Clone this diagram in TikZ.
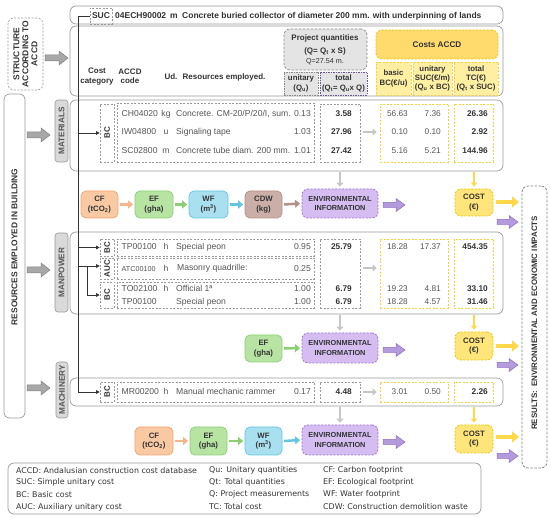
\documentclass[tikz,border=0pt]{standalone}
\usepackage{fontspec}
\setmainfont{Liberation Sans}
\newfontfamily\legfont{DejaVu Sans}
\usetikzlibrary{arrows.meta,fit,calc}
\definecolor{txtC}{HTML}{333333}
\definecolor{numC}{HTML}{555555}
\definecolor{frameC}{HTML}{9A9A9A}
\definecolor{dashC}{HTML}{9A9A9A}
\definecolor{tabC}{HTML}{D9D9D9}
\definecolor{pqTD}{HTML}{6A5A8C}
\definecolor{cfF}{HTML}{F9C9A3}\definecolor{cfD}{HTML}{F3A46E}
\definecolor{efF}{HTML}{B7E4A3}\definecolor{efD}{HTML}{8CCF73}
\definecolor{wfF}{HTML}{A9E0EF}\definecolor{wfD}{HTML}{63C6E0}
\definecolor{cdF}{HTML}{CBAEA8}\definecolor{cdD}{HTML}{B39089}
\definecolor{enF}{HTML}{D5BDF2}\definecolor{enD}{HTML}{9E72D6}
\definecolor{coF}{HTML}{FFE57A}\definecolor{coD}{HTML}{F2C200}
\definecolor{ylF}{HTML}{FFF3B5}\definecolor{ylD}{HTML}{F7D23A}
\definecolor{pqF}{HTML}{E4E4E4}\definecolor{pqD}{HTML}{8A8A8A}
\definecolor{puF}{HTML}{B49BDB}\definecolor{puD}{HTML}{8C6CC4}
\definecolor{yaC}{HTML}{FFD84A}
\definecolor{gaF}{HTML}{A8A8A8}\definecolor{gaD}{HTML}{808080}
\newcommand\myFatArrow[7]{\filldraw[#7] (#1,#3-#4) -- (#2-#6,#3-#4) -- (#2-#6,#3-#5) -- (#2,#3) -- (#2-#6,#3+#5) -- (#2-#6,#3+#4) -- (#1,#3+#4) -- cycle;}
\begin{document}
\begin{tikzpicture}[x=1pt,y=-1pt,
  frame/.style={draw=frameC, line width=0.7pt, rounded corners=6pt, inner sep=0pt},
  dbox/.style={draw=dashC, line width=0.6pt, dash pattern=on 2pt off 1.5pt, inner sep=0pt},
  ybox/.style={draw=ylD, line width=0.8pt, dash pattern=on 2pt off 1.5pt, inner sep=0pt},
  tabbox/.style={draw=frameC, fill=tabC, line width=0.6pt, rounded corners=3pt, inner sep=0pt},
  t/.style={font=\fontsize{8.6}{10}\selectfont, text=numC, inner sep=0pt, text height=6.2pt, text depth=1.8pt},
  n/.style={font=\fontsize{8.3}{10}\selectfont, text=numC, inner sep=0pt, text height=6.2pt, text depth=1.8pt},
  nb/.style={n, font=\fontsize{8.3}{10}\selectfont\bfseries, text=txtC},
  sb/.style={font=\fontsize{8.5}{10}\selectfont\bfseries, text=txtC, inner sep=0pt, text height=6.2pt, text depth=1.8pt},
  hb/.style={font=\fontsize{8.0}{9.4}\selectfont\bfseries, text=txtC, inner sep=0pt, align=center},
  hs/.style={font=\fontsize{7.8}{9.2}\selectfont\bfseries, text=txtC, inner sep=0pt, align=center},
  rot/.style={font=\fontsize{8}{9}\selectfont\bfseries, text=txtC, rotate=90, inner sep=0pt, align=center},
  fp/.style={rounded corners=5pt, line width=0.7pt, inner sep=0pt},
  fpt/.style={font=\fontsize{7.8}{9.6}\selectfont\bfseries, text=txtC, inner sep=0pt, align=center},
  envbox/.style={fill=enF, draw=enD, line width=0.8pt, dash pattern=on 2pt off 1.5pt, rounded corners=6pt, inner sep=0pt},
  costbox/.style={fill=coF, draw=coD, line width=0.8pt, dash pattern=on 2pt off 1.5pt, rounded corners=6pt, inner sep=0pt},
  conn/.style={draw=txtC, line width=0.6pt},
  carr/.style={conn, -{Triangle[length=3.5pt,width=3.5pt]}},
  garr/.style={draw=gray!45, line width=2pt, -{Triangle[length=4pt,width=7pt]}},
  yarr/.style={draw=yaC, line width=1.6pt, -{Triangle[length=4pt,width=6pt]}},
  bigy/.style={draw=yaC, line width=3.5pt, -{Triangle[length=7pt,width=11pt]}},
  farr/.style={line width=2.5pt, -{Triangle[length=5pt,width=8pt]}},
  leg/.style={font=\legfont\fontsize{7.9}{9}\selectfont, text=txtC, inner sep=0pt, anchor=west}
]
\useasboundingbox (0,0) rectangle (550,518);

% ---------- left side ----------
\node[dbox, rounded corners=6pt, fit={(8,18)(43,90)}] (struct) {};
\node[rot, font=\fontsize{8.5}{9}\selectfont\bfseries] at (struct.center) {STRUCTURE\\ACCORDING TO\\ACCD};
\node[frame, rounded corners=5pt, fit={(4,94)(25,418)}] (resbox) {};
\node[rot, font=\fontsize{8.4}{9}\selectfont\bfseries] at (14.5,247) {RESOURCES EMPLOYED IN BUILDING};
\myFatArrow{45}{68}{58}{3}{7}{9}{fill=gaF, draw=gaD, line width=0.5pt}
\myFatArrow{27}{50}{135}{3}{7}{9}{fill=gaF, draw=gaD, line width=0.5pt}
\myFatArrow{27}{50}{270}{3}{7}{9}{fill=gaF, draw=gaD, line width=0.5pt}
\myFatArrow{27}{50}{388}{3}{7}{9}{fill=gaF, draw=gaD, line width=0.5pt}

% ---------- SUC row ----------
\node[frame, fit={(70,6)(503,24)}] (sucrow) {};
\node[dbox, fit={(90,8)(112,24)}] (sucbox) {};
\node[sb] at (sucbox.center) {SUC};
\node[sb, anchor=west] (succode) at (115,16) {04ECH90002};
\node[sb] (sucud) at (174,16) {m};
\node[sb, anchor=west] (sucdesc) at (182,16) {Concrete buried collector of diameter 200 mm. with underpinning of lands};

% ---------- header ----------
\node[frame, fit={(70,26)(503,96)}] (header) {};
\node[hb] (hcat) at (97,76.5) {Cost\\category};
\node[hb] (hcode) at (130,76.5) {ACCD\\code};
\node[hb] (hud) at (171,77) {Ud.};
\node[hb, anchor=west] (hres) at (182.5,77) {Resources employed.};
\node[fill=pqF, draw=pqD, line width=0.7pt, dash pattern=on 2.5pt off 1.5pt, rounded corners=6pt, inner sep=0pt, fit={(284,29)(367,70)}] (pq) {};
\node[hb] at (325,38) {Project quantities};
\node[hb] at (325,51) {(Q= Q\textsubscript{t} x S)};
\node[font=\fontsize{7.2}{8}\selectfont, text=txtC, inner sep=0pt] at (325,62) {Q=27.54 m.};
\node[fill=pqF, draw=pqD, line width=0.6pt, dash pattern=on 1.5pt off 1pt, inner sep=0pt, fit={(284,72)(318,95)}] (pqU) {};
\node[hs] at (pqU.center) {unitary\\(Q\textsubscript{u})};
\node[fill=pqF, draw=pqTD, line width=0.6pt, dash pattern=on 1.5pt off 1pt, inner sep=0pt, fit={(320,72)(367,95)}] (pqT) {};
\node[hs] at (pqT.center) {total\\(Q\textsubscript{t}= Q\textsubscript{u}x Q)};
\node[costbox, fill=coF!90!orange, fit={(376,30)(498,59)}] (costs) {};
\node[hb, font=\fontsize{8.2}{9.4}\selectfont\bfseries] at (costs.center) {Costs ACCD};
\node[ybox, fill=ylF!70!coF, fit={(376,62)(411,95)}] (hB) {};
\node[hs] at (hB.center) {basic\\BC(€/u)};
\node[ybox, fill=ylF!70!coF, fit={(413,62)(452,95)}] (hU) {};
\node[hs] at (hU.center) {unitary\\SUC(€/m)\\(Q\textsubscript{u} x BC)};
\node[ybox, fill=ylF!70!coF, fit={(454,62)(498,95)}] (hT) {};
\node[hs] at (hT.center) {total\\TC(€)\\(Q\textsubscript{t} x SUC)};

% ---------- MATERIALS ----------
\node[frame, fit={(70,100)(503,171)}] (matrow) {};
\node[tabbox, fit={(55,100)(68,162)}] (mattab) {};
\node[rot, font=\fontsize{8.2}{9}\selectfont\bfseries, text=numC] at (mattab.center) {MATERIALS};
\node[dbox, fit={(100,104)(114,162)}] (bcMat) {};
\node[rot] at (bcMat.center) {BC};
\node[dbox, fit={(117,103)(314,162)}] (resMat) {};
\node[dbox, fit={(320,104)(360,162)}] (totMat) {};
\node[ybox, fit={(380,104)(448,162)}] (yMat) {};
\node[ybox, fit={(454,104)(493,162)}] (ytMat) {};
\foreach \y/\c/\u/\d/\q/\tq/\b/\s/\tc in {114/CH04020/kg/{Concrete. CM-20/P/20/I, sum.}/0.13/3.58/56.63/7.36/26.36,
 132/IW04800/u/Signaling tape/1.03/27.96/0.10/0.10/2.92,
 151/SC02800/m/Concrete tube diam. 200 mm./1.01/27.42/5.16/5.21/144.96}{
  \node[t, anchor=west] at (121.5,\y) {\c};
  \node[t] at (166,\y) {\u};
  \node[t, anchor=west] at (176,\y) {\d};
  \node[t, anchor=east] at (311,\y) {\q};
  \node[nb, anchor=east] at (352,\y) {\tq};
  \node[n, anchor=east] at (408,\y) {\b};
  \node[n, anchor=east] at (441,\y) {\s};
  \node[nb, anchor=east] at (488,\y) {\tc};
}
\draw[garr] ($(totMat.east |- 0,132)+(3,0)$) -- ($(yMat.west |- 0,132)+(-3,0)$);

% ---------- MANPOWER ----------
\node[frame, fit={(70,232)(503,314)}] (manrow) {};
\node[tabbox, fit={(55,233)(68,312)}] (mantab) {};
\node[rot, font=\fontsize{8.2}{9}\selectfont\bfseries, text=numC] at (mantab.center) {MANPOWER};
\node[dbox, fit={(100,239)(114,256)}] (bcP1) {};
\node[rot] at (bcP1.center) {BC};
\node[dbox, fit={(117,239)(314,256)}] (resP1) {};
\node[dbox, fit={(100,258)(114,279)}] (aucP) {};
\node[rot] at (aucP.center) {AUC};
\node[dbox, fit={(117,258)(314,279)}] (resP2) {};
\node[dbox, fit={(100,282)(114,308)}] (bcP2) {};
\node[rot] at (bcP2.center) {BC};
\node[dbox, fit={(117,282)(314,308)}] (resP3) {};
\node[dbox, fit={(320,239)(360,308)}] (totMan) {};
\node[ybox, fit={(380,239)(448,308)}] (yMan) {};
\node[ybox, fit={(454,239)(493,308)}] (ytMan) {};
\node[t, anchor=west] at (121.5,247.5) {TP00100};
\node[t] at (166,247.5) {h};
\node[t, anchor=west] at (176,247.5) {Special peon};
\node[t, anchor=east] at (311,247.5) {0.95};
\node[nb, anchor=east] at (352,247.5) {25.79};
\node[n, anchor=east] at (408,247.5) {18.28};
\node[n, anchor=east] at (441,247.5) {17.37};
\node[nb, anchor=east] at (488,247.5) {454.35};
\node[t, anchor=west, font=\fontsize{7.2}{8}\selectfont] at (121.5,269) {ATC00100};
\node[t] at (166,269) {h};
\node[t, anchor=west] at (177,268.5) {Masonry quadrille:};
\node[t, anchor=east] at (311,269) {0.25};
\node[t, anchor=west] at (121.5,289) {TO02100};
\node[t] at (166,289) {h};
\node[t, anchor=west] at (176,289) {Official 1ª};
\node[t, anchor=east] at (311,289) {1.00};
\node[nb, anchor=east] at (352,289) {6.79};
\node[n, anchor=east] at (408,289) {19.23};
\node[n, anchor=east] at (441,289) {4.81};
\node[nb, anchor=east] at (488,289) {33.10};
\node[t, anchor=west] at (121.5,302) {TP00100};
\node[t, anchor=west] at (176,302) {Special peon};
\node[t, anchor=east] at (311,302) {1.00};
\node[nb, anchor=east] at (352,302) {6.79};
\node[n, anchor=east] at (408,302) {18.28};
\node[n, anchor=east] at (441,302) {4.57};
\node[nb, anchor=east] at (488,302) {31.46};
\draw[garr] ($(totMan.east |- 0,268)+(3,0)$) -- ($(yMan.west |- 0,268)+(-3,0)$);

% ---------- MACHINERY ----------
\node[frame, fit={(70,378)(503,406)}] (machrow) {};
\node[tabbox, fit={(56,362)(68,418)}] (machtab) {};
\node[rot, font=\fontsize{8.2}{9}\selectfont\bfseries, text=numC] at (machtab.center) {MACHINERY};
\node[dbox, fit={(100,382)(114,402)}] (bcMc) {};
\node[rot] at (bcMc.center) {BC};
\node[dbox, fit={(117,382)(314,402)}] (resMc) {};
\node[dbox, fit={(320,382)(360,402)}] (totMc) {};
\node[ybox, fit={(380,382)(448,402)}] (yMc) {};
\node[ybox, fit={(454,382)(493,402)}] (ytMc) {};
\node[t, anchor=west] at (121.5,392) {MR00200};
\node[t] at (166,392) {h};
\node[t, anchor=west] at (176,392) {Manual mechanic rammer};
\node[t, anchor=east] at (311,392) {0.17};
\node[nb, anchor=east] at (352,392) {4.48};
\node[n, anchor=east] at (408,392) {3.01};
\node[n, anchor=east] at (441,392) {0.50};
\node[nb, anchor=east] at (488,392) {2.26};
\draw[garr] ($(totMc.east |- 0,392)+(3,0)$) -- ($(yMc.west |- 0,392)+(-3,0)$);

% ---------- tree connectors ----------
\coordinate (j0) at (78,16);
\draw[conn] (sucbox.west) -- (j0) -- (j0 |- bcMc.west);
\draw[carr] (j0 |- bcMc.west) -- (bcMc.west);
\draw[carr] (j0 |- bcMat.west) -- (bcMat.west);
\draw[carr] (j0 |- bcP1.west) -- (bcP1.west);
\draw[carr] (j0 |- 0,266) -- (aucP.west |- 0,266);
\coordinate (j1) at (87,266);
\draw[carr] (j1) |- (bcP2.west);

% ---------- environmental rows ----------
\node[fp, fill=cfF, draw=cfD, fit={(81,191)(118,218)}] (cf1) {};
\node[fpt] at (cf1.center) {CF\\(tCO\textsubscript{2})};
\node[fp, fill=efF, draw=efD, fit={(135,191)(173,218)}] (ef1) {};
\node[fpt] at (ef1.center) {EF\\(gha)};
\node[fp, fill=wfF, draw=wfD, fit={(189,191)(228,218)}] (wf1) {};
\node[fpt] at (wf1.center) {WF\\(m\textsuperscript{3})};
\node[fp, fill=cdF, draw=cdD, fit={(245,191)(282,218)}] (cdw1) {};
\node[fpt] at (cdw1.center) {CDW\\(kg)};
\node[envbox, fit={(302,189)(378,218)}] (env1) {};
\node[fpt, font=\fontsize{7.3}{9.6}\selectfont\bfseries] at (env1.center) {ENVIRONMENTAL\\INFORMATION};
\node[costbox, fit={(455,189)(493,216)}] (cost1) {};
\node[fpt] at (cost1.center) {COST\\(€)};
\draw[farr, draw=cfD!80] ($(cf1.east)+(1.5,0)$) -- ($(ef1.west)+(-1.5,0)$);
\draw[farr, draw=efD] ($(ef1.east)+(1.5,0)$) -- ($(wf1.west)+(-1.5,0)$);
\draw[farr, draw=wfD] ($(wf1.east)+(1.5,0)$) -- ($(cdw1.west)+(-1.5,0)$);
\draw[farr, draw=cdD] ($(cdw1.east)+(1.5,0)$) -- ($(env1.west)+(-1.5,0)$);
\draw[garr] ($(env1.north |- matrow.south)+(0,1)$) -- ($(env1.north)+(0,-2)$);
\draw[yarr] ($(cost1.north |- matrow.south)+(0,1)$) -- ($(cost1.north)+(0,-2)$);
\myFatArrow{383}{405}{205}{2.5}{6.5}{9}{fill=puF, draw=puD, line width=0.5pt}
\myFatArrow{497}{518}{222}{2.5}{6.5}{9}{fill=puF, draw=puD, line width=0.5pt}
\coordinate (y1) at (519,202);
\draw[bigy] ($(cost1.east |- y1)+(3,0)$) -- (y1);

\node[fp, fill=efF, draw=efD, fit={(245,335)(282,362)}] (ef2) {};
\node[fpt] at (ef2.center) {EF\\(gha)};
\node[envbox, fit={(302,333)(378,363)}] (env2) {};
\node[fpt, font=\fontsize{7.3}{9.6}\selectfont\bfseries] at (env2.center) {ENVIRONMENTAL\\INFORMATION};
\node[costbox, fit={(455,332)(493,360)}] (cost2) {};
\node[fpt] at (cost2.center) {COST\\(€)};
\draw[farr, draw=efD] ($(ef2.east)+(1.5,0)$) -- ($(env2.west)+(-1.5,0)$);
\draw[garr] ($(env2.north |- manrow.south)+(0,1)$) -- ($(env2.north)+(0,-2)$);
\draw[yarr] ($(cost2.north |- manrow.south)+(0,1)$) -- ($(cost2.north)+(0,-2)$);
\myFatArrow{383}{405}{350}{2.5}{6.5}{9}{fill=puF, draw=puD, line width=0.5pt}
\myFatArrow{497}{518}{365}{2.5}{6.5}{9}{fill=puF, draw=puD, line width=0.5pt}
\coordinate (y2) at (519,346);
\draw[bigy] ($(cost2.east |- y2)+(3,0)$) -- (y2);

\node[fp, fill=cfF, draw=cfD, fit={(135,427)(173,455)}] (cf3) {};
\node[fpt] at (cf3.center) {CF\\(tCO\textsubscript{2})};
\node[fp, fill=efF, draw=efD, fit={(190,427)(227,455)}] (ef3) {};
\node[fpt] at (ef3.center) {EF\\(gha)};
\node[fp, fill=wfF, draw=wfD, fit={(245,427)(282,455)}] (wf3) {};
\node[fpt] at (wf3.center) {WF\\(m\textsuperscript{3})};
\node[envbox, fit={(302,425)(378,455)}] (env3) {};
\node[fpt, font=\fontsize{7.3}{9.6}\selectfont\bfseries] at (env3.center) {ENVIRONMENTAL\\INFORMATION};
\node[costbox, fit={(455,425)(493,453)}] (cost3) {};
\node[fpt] at (cost3.center) {COST\\(€)};
\draw[farr, draw=cfD!80] ($(cf3.east)+(1.5,0)$) -- ($(ef3.west)+(-1.5,0)$);
\draw[farr, draw=efD] ($(ef3.east)+(1.5,0)$) -- ($(wf3.west)+(-1.5,0)$);
\draw[farr, draw=wfD] ($(wf3.east)+(1.5,0)$) -- ($(env3.west)+(-1.5,0)$);
\draw[garr] ($(env3.north |- machrow.south)+(0,1)$) -- ($(env3.north)+(0,-2)$);
\draw[yarr] ($(cost3.north |- machrow.south)+(0,1)$) -- ($(cost3.north)+(0,-2)$);
\myFatArrow{383}{405}{442}{2.5}{6.5}{9}{fill=puF, draw=puD, line width=0.5pt}
\myFatArrow{497}{518}{456}{2.5}{6.5}{9}{fill=puF, draw=puD, line width=0.5pt}
\coordinate (y3) at (519,437);
\draw[bigy] ($(cost3.east |- y3)+(3,0)$) -- (y3);

% ---------- results ----------
\node[draw=gaD, line width=0.8pt, dash pattern=on 2.5pt off 1.5pt, rounded corners=6pt, inner sep=0pt, fit={(522,186)(547,468)}] (results) {};
\node[rot, font=\fontsize{7.9}{9}\selectfont\bfseries] at (534.5,323) {RESULTS:\ \ ENVIRONMENTAL AND ECONOMIC IMPACTS};

% ---------- legend ----------
\node[frame, fit={(8,463)(481,514)}] (legend) {};
\node[leg] at (16,470.5) {ACCD: Andalusian construction cost database};
\node[leg] at (16,482.5) {SUC: Simple unitary cost};
\node[leg] at (16,494.5) {BC: Basic cost};
\node[leg] at (16,507) {AUC: Auxiliary unitary cost};
\node[leg] at (209,470.5) {Qu: Unitary quantities};
\node[leg] at (209,482.5) {Qt: Total quantities};
\node[leg] at (209,494.5) {Q: Project measurements};
\node[leg] at (209,507) {TC: Total cost};
\node[leg] at (323,470.5) {CF: Carbon footprint};
\node[leg] at (323,482.5) {EF: Ecological footprint};
\node[leg] at (323,494.5) {WF: Water footprint};
\node[leg] at (323,507) {CDW: Construction demolition waste};
\end{tikzpicture}
\end{document}
